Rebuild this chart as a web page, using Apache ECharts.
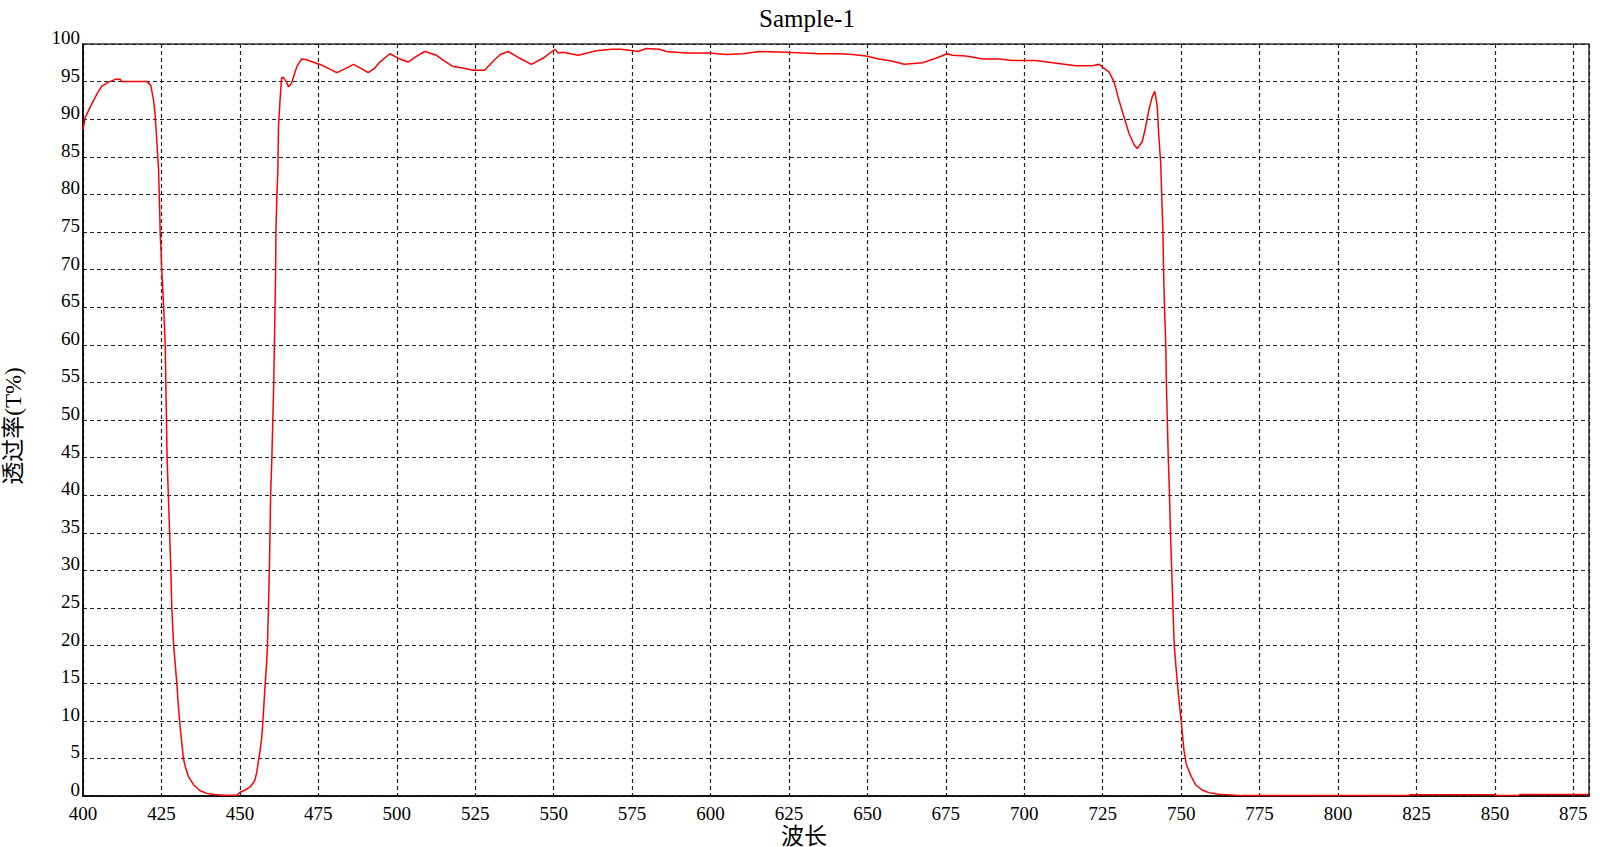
<!DOCTYPE html>
<html>
<head>
<meta charset="utf-8">
<script src="https://cdn.jsdelivr.net/npm/echarts@6/dist/echarts.min.js"></script>
<style>
html,body{margin:0;padding:0;background:#fff;}
#chart{width:1614px;height:847px;}
</style>
</head>
<body>
<div id="chart"></div>
<script>
const chartTitle = 'Sample-1';
const xAxisName = '波长';
const yAxisName = '透过率(T%)';

const wavelength = [
  400, 400.7, 402.5, 404.5, 406, 408, 410.3, 411.9, 412.4, 416, 420.4, 421.6, 422.5, 423, 423.5, 424.1,
  424.3, 424.6, 425.1, 425.7, 426.2, 426.4, 426.6, 426.8, 427.2, 427.6, 428, 428.3, 428.9,
  429.4, 429.9, 430.4, 431, 431.5, 432, 432.6, 433.6, 435.2, 437.3, 439.5, 441.6, 445, 449,
  450.1, 451.7, 453.3, 454.8, 455.4, 455.9, 456.4, 457, 457.5, 458, 458.5, 458.8,
  459.1, 459.4, 459.6, 459.8, 460.2, 460.5, 460.8, 461, 461.2, 461.4, 461.5, 461.8, 462.1, 462.3, 462.8,
  463.3, 463.8, 464.9, 465.5, 466.5, 467.6, 468.4, 469.7, 471.3, 474.5, 476.1, 478.5, 480.9, 483.5,
  486.2, 488.5, 490.9, 493, 494.6, 497.8, 501, 503.6, 506, 508.9, 512.7, 515, 518, 521, 524.3, 528,
  531.2, 533, 535.5, 539.2, 542.9, 546.6, 550.4, 551.4, 553, 557.8, 563.6, 568.4, 571.3, 575.3, 576.9,
  579.5, 583.8, 585.9, 592.3, 599.7, 605, 610.3, 615.6, 624.1, 634.7, 641, 645.3, 649.5, 653.7, 658,
  661.7, 667.6, 671.8, 675.5, 677.1, 681.4, 686.7, 692, 696.3, 703.7, 709, 716.5, 721.8, 723.9,
  725, 727, 728.6, 730.2, 731.8, 733.4, 735, 736, 737.6, 738.7, 739.7, 740.8, 741.6, 742.4, 742.9,
  743.5, 743.8, 744.2, 744.4, 744.7, 745.1, 745.3, 745.6, 745.9, 746.3, 746.6, 747, 747.4, 747.8,
  748.6, 749.3, 750, 750.9, 751.6, 753, 754.6, 756.7, 758.8, 762, 769.4, 822.5, 823, 850, 850.5,
  857.5, 858, 880
];

const transmittance = [
  88.6, 90.2, 91.8, 93.4, 94.4, 94.9, 95.3, 95.3, 95.0, 95.0, 95.0, 94.5, 92.5, 90.5, 87.2, 83.2,
  80, 75, 70, 65, 60, 55, 50, 45, 40, 35, 30, 25, 20,
  17.5, 15, 11.9, 9.0, 7.0, 5.0, 3.9, 2.6, 1.5, 0.7, 0.35, 0.2, 0.1, 0.1,
  0.5, 0.8, 1.2, 2.1, 3.2, 4.6, 5.9, 7.9, 11, 14.5, 17.5, 20,
  25, 30, 35, 40, 45, 50, 55, 60, 65, 70, 75, 80, 83, 89, 92.5,
  95.5, 95.6, 94.9, 94.3, 94.8, 96.3, 97.2, 98.0, 97.9, 97.4, 97.2, 96.7, 96.2, 96.7,
  97.3, 96.8, 96.2, 96.8, 97.6, 98.7, 98.0, 97.6, 98.3, 99.0, 98.5, 97.8, 97.0, 96.8, 96.5, 96.5,
  97.9, 98.6, 99.0, 98.1, 97.3, 98.1, 99.3, 98.8, 98.9, 98.5, 99.1, 99.3, 99.3, 99.1, 99.0,
  99.4, 99.3, 99.0, 98.8, 98.8, 98.6, 98.7, 99.0, 98.9, 98.7, 98.7, 98.6, 98.4, 98.0, 97.7,
  97.3, 97.5, 98.1, 98.7, 98.5, 98.4, 98.0, 98.0, 97.8, 97.8, 97.5, 97.1, 97.1, 97.3,
  96.9, 96.3, 95.0, 92.5, 90.3, 88.1, 86.6, 86.1, 87.0, 89.0, 91.2, 93.0, 93.7, 91.7, 87.7,
  84.1, 80, 75, 70, 65, 60, 55, 50, 45, 40, 35, 30, 25, 20,
  16, 12.8, 10, 6.1, 4.3, 2.8, 1.5, 0.8, 0.45, 0.22, 0.05, 0.05, 0.15, 0.15, 0.05,
  0.05, 0.2, 0.2
];

const xMin = 400, xMax = 880, xStep = 25;
const yMin = 0, yMax = 100, yStep = 5;

const seriesData = wavelength.map((w, i) => [w, transmittance[i]]);

const serif = '"Liberation Serif", "Times New Roman", "Noto Sans CJK SC", serif';
const chart = echarts.init(document.getElementById('chart'), null, {renderer: 'svg'});

const gridLine = {show: true, lineStyle: {color: '#222', width: 1.2, type: [4, 3]}};

chart.setOption({
  backgroundColor: '#ffffff',
  animation: false,
  title: {
    text: chartTitle,
    left: 'center',
    top: 1,
    textStyle: {fontFamily: serif, fontSize: 25, fontWeight: 'normal', color: '#000'}
  },
  graphic: [
    {
      type: 'text', x: 804, y: 836,
      style: {text: xAxisName, fontFamily: serif, fontSize: 23, fill: '#000', align: 'center', verticalAlign: 'middle'}
    },
    {
      type: 'text', x: 13, y: 426, rotation: Math.PI / 2,
      style: {text: yAxisName, fontFamily: serif, fontSize: 23, fill: '#000', align: 'center', verticalAlign: 'middle'}
    }
  ],
  grid: {
    left: 83, right: 25, top: 44, bottom: 51,
    containLabel: false,
    outerBoundsMode: 'none',
    show: true, borderColor: '#333', borderWidth: 1.5, backgroundColor: 'transparent'
  },
  xAxis: {
    type: 'value',
    min: xMin, max: xMax, interval: xStep,
    axisLine: {show: true, lineStyle: {color: '#000', width: 1.5}},
    axisTick: {show: false},
    axisLabel: {
      showMaxLabel: false,
      margin: 8,
      fontFamily: serif, fontSize: 19, color: '#000'
    },
    splitLine: gridLine
  },
  yAxis: {
    type: 'value',
    min: yMin, max: yMax, interval: yStep,
    axisLine: {show: true, lineStyle: {color: '#000', width: 1.5}},
    axisTick: {show: false},
    axisLabel: {
      margin: 3,
      fontFamily: serif, fontSize: 19, color: '#000',
      verticalAlign: 'bottom',
      lineHeight: 13
    },
    splitLine: gridLine
  },
  series: [{
    type: 'line',
    data: seriesData,
    symbol: 'none',
    smooth: false,
    lineStyle: {color: '#ff0000', width: 1.5},
    z: 5
  }]
});
</script>
</body>
</html>
